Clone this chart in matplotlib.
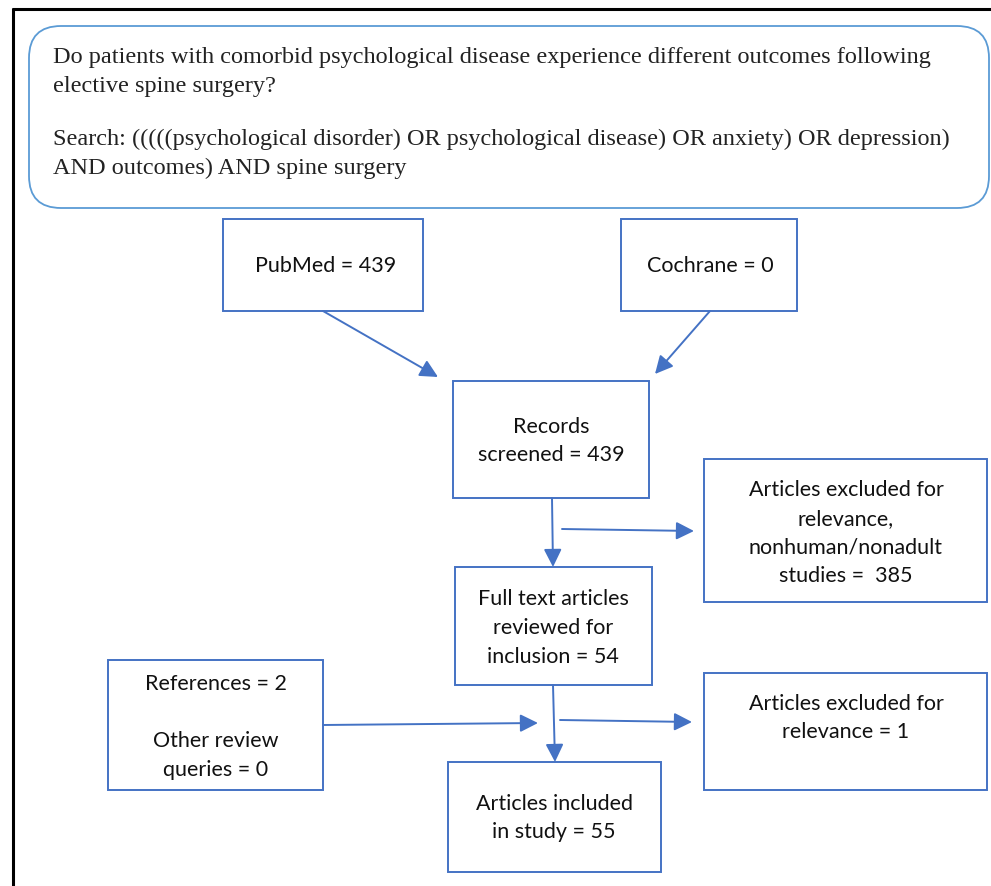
import matplotlib.pyplot as plt
from matplotlib.patches import FancyBboxPatch, Rectangle

# Datos del diagrama de flujo
pregunta = ["Do patients with comorbid psychological disease experience different outcomes following",
            "elective spine surgery?"]
busqueda = ["Search: (((((psychological disorder) OR psychological disease) OR anxiety) OR depression)",
            "AND outcomes) AND spine surgery"]
n_pubmed = 439
n_cochrane = 0
n_screened = 439
n_excl_1 = 385
n_fulltext = 54
n_refs = 2
n_otras = 0
n_excl_2 = 1
n_incluidos = 55

textos = {
    'pubmed': f"PubMed = {n_pubmed}",
    'cochrane': f"Cochrane = {n_cochrane}",
    'screened': f"Records\nscreened = {n_screened}",
    'excl1': f"Articles excluded for\nrelevance,\nnonhuman/nonadult\nstudies =  {n_excl_1}",
    'full': f"Full text articles\nreviewed for\ninclusion = {n_fulltext}",
    'refs': f"References = {n_refs}\n\nOther review\nqueries = {n_otras}",
    'excl2': f"Articles excluded for\nrelevance = {n_excl_2}",
    'incl': f"Articles included\nin study = {n_incluidos}",
}

# Layout en pixeles: x0, y0, x1, y1
cajas = {
    'pubmed': (223, 219, 423, 311),
    'cochrane': (621, 219, 797, 311),
    'screened': (453, 381, 649, 498),
    'excl1': (704, 459, 987, 602),
    'full': (455, 567, 652, 685),
    'refs': (108, 660, 323, 790),
    'excl2': (704, 673, 987, 790),
    'incl': (448, 762, 661, 872),
}
centro_texto = {
    'pubmed': (326, 266), 'cochrane': (710, 266), 'screened': (551, 441),
    'excl1': (846, 533), 'full': (553, 628), 'refs': (216, 727),
    'excl2': (846, 718), 'incl': (554, 818),
}
flechas = [
    ((323, 311), (438, 377)),
    ((710, 311), (655, 374)),
    ((552, 498), (553, 567)),
    ((562, 529), (694, 531)),
    ((553, 685), (555, 762)),
    ((323, 725), (538, 723)),
    ((560, 720), (692, 722)),
]

azul = '#4472C4'
azul_claro = '#5B9BD5'

fig = plt.figure(figsize=(9.91, 8.86), dpi=100)
ax = fig.add_axes([0, 0, 1, 1])
ax.set_xlim(0, 991)
ax.set_ylim(886, 0)
ax.axis('off')

# marco negro
ax.plot([12, 991], [9, 9], color='black', lw=2.2, solid_capstyle='butt')
ax.plot([13, 13], [8, 886], color='black', lw=2.2, solid_capstyle='butt')

# caja de la pregunta
caja = FancyBboxPatch((29, 26), 960, 182, boxstyle="round,pad=0,rounding_size=32",
                      fc='white', ec=azul_claro, lw=1.3)
ax.add_patch(caja)
serif = 'Liberation Serif'
for i, linea in enumerate(pregunta):
    ax.text(53, 63 + i * 29, linea, fontsize=17.45, family=serif, color='#222222', va='baseline')
for i, linea in enumerate(busqueda):
    ax.text(53, 145 + i * 29, linea, fontsize=17.45, family=serif, color='#222222', va='baseline')

for k, (x0, y0, x1, y1) in cajas.items():
    ax.add_patch(Rectangle((x0, y0), x1 - x0, y1 - y0, fc='white', ec=azul, lw=1.4))
    cx, cy = centro_texto[k]
    ax.text(cx, cy, textos[k], fontsize=15.5, family='Lato', ha='center', va='center',
            linespacing=1.55, color='#111111')

for (x0, y0), (x1, y1) in flechas:
    ax.annotate('', xy=(x1, y1), xytext=(x0, y0),
                arrowprops=dict(arrowstyle='-|>,head_length=0.6,head_width=0.3', color=azul,
                                lw=1.4, mutation_scale=18, shrinkA=0, shrinkB=0))

fig.savefig('out.png', dpi=100)
